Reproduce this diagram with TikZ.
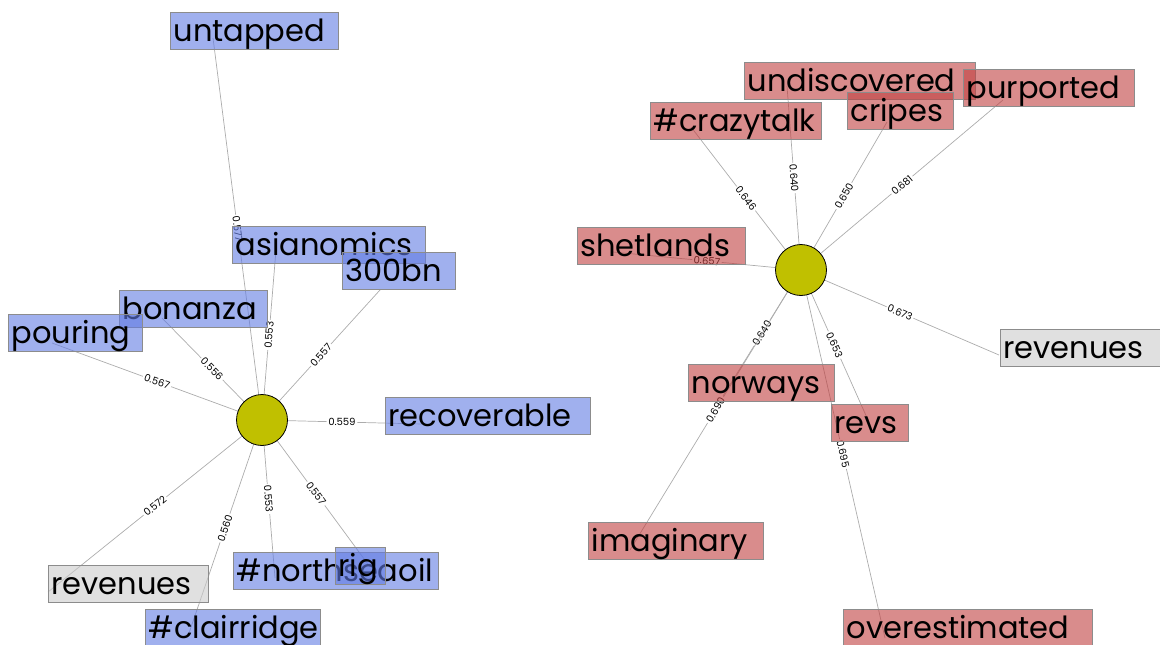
\documentclass[tikz,border=0pt]{standalone}
\usepackage{fontspec}
\newfontfamily\termfont{Poppins}
\usetikzlibrary{backgrounds}
\definecolor{TermBlue} {RGB}{ 97, 123, 227}
\definecolor{TermRed}  {RGB}{192,  63,  63}
\definecolor{TermGrey} {RGB}{203, 203, 203}
\definecolor{HubOlive} {RGB}{192, 192,   0}
\definecolor{EdgeGrey} {RGB}{172, 172, 172}
\definecolor{BoxLine}  {RGB}{140, 140, 140}

\begin{document}
\begin{tikzpicture}[
  x=1pt, y=-1pt,
  term/.style={draw=BoxLine, line width=1pt, fill opacity=0.6, text opacity=1,
               anchor=north west, align=left, inner xsep=3pt, inner ysep=0pt,
               text height=29pt, text depth=8pt, font=\termfont\fontsize{30.5}{31}\selectfont},
  blueterm/.style={term, fill=TermBlue},
  redterm/.style={term, fill=TermRed},
  greyterm/.style={term, fill=TermGrey},
  hub/.style={circle, draw=black, line width=0.8pt, fill=HubOlive,
              minimum size=51pt, inner sep=0pt},
  edge/.style={draw=EdgeGrey, line width=0.7pt},
  weight/.style={sloped, fill=white, inner sep=1.5pt,
                 font=\termfont\fontsize{10}{10}\selectfont}
]
  \useasboundingbox (0,0) rectangle (1160,645);

  % hubs
  \node[hub] (hubL) at (262,420) {};
  \node[hub] (hubR) at (801,270) {};

  % end points of the edges, left cluster
  \coordinate (p-untapped)    at (213,38);
  \coordinate (p-asianomics)  at (276,250);
  \coordinate (p-300bn)       at (380,290);
  \coordinate (p-bonanza)     at (162,318);
  \coordinate (p-pouring)     at (52,343);
  \coordinate (p-recoverable) at (422,424);
  \coordinate (p-revenuesL)   at (48,592);
  \coordinate (p-clairridge)  at (188,636);
  \coordinate (p-northseaoil) at (275,578);
  \coordinate (p-rig)         at (370,567);
  % right cluster
  \coordinate (p-undiscovered)  at (787,86);
  \coordinate (p-crazytalk)     at (691,127);
  \coordinate (p-cripes)        at (887,122);
  \coordinate (p-purported)     at (1003,100);
  \coordinate (p-shetlands)     at (613,252);
  \coordinate (p-revenuesR)     at (999,355);
  \coordinate (p-norways)       at (723,396);
  \coordinate (p-imaginary)     at (630,550);
  \coordinate (p-revs)          at (868,420);
  \coordinate (p-overestimated) at (885,638);

  % term boxes, left cluster
  \node[blueterm, text width=162pt] (untapped)    at (170,12)  {untapped};
  \node[blueterm, text width=187pt] (asianomics)  at (232,226) {asianomics};
  \node[blueterm, text width=107pt] (300bn)       at (342,252) {300bn};
  \node[blueterm, text width=142pt] (bonanza)     at (119,290) {bonanza};
  \node[blueterm, text width=128pt] (pouring)     at (8,314)   {pouring};
  \node[blueterm, text width=199pt] (recoverable) at (385,397) {recoverable};
  \node[greyterm, text width=154pt] (revenuesL)   at (48,565)  {revenues};
  \node[blueterm, text width=169pt] (clairridge)  at (145,609) {\#clairridge};
  \node[blueterm, text width=199pt] (northseaoil) at (233,552) {\#northseaoil};
  \node[blueterm, text width=44pt]  (rig)         at (335,547) {rig};

  % term boxes, right cluster
  \node[redterm, text width=225pt]  (undiscovered)  at (744,62)  {undiscovered};
  \node[redterm, text width=165pt]  (crazytalk)     at (650,102) {\#crazytalk};
  \node[redterm, text width=100pt]  (cripes)        at (847,92)  {cripes};
  \node[redterm, text width=165pt]  (purported)     at (963,69)  {purported};
  \node[redterm, text width=162pt]  (shetlands)     at (577,227) {shetlands};
  \node[greyterm, text width=154pt] (revenuesR)     at (1000,329) {revenues};
  \node[redterm, text width=140pt]  (norways)       at (688,364) {norways};
  \node[redterm, text width=71pt]   (revs)          at (831,404) {revs};
  \node[redterm, text width=169pt]  (imaginary)     at (588,522) {imaginary};
  \node[redterm, text width=243pt]  (overestimated) at (843,609) {overestimated};

  % weighted edges
  \begin{pgfonlayer}{background}
    \draw[edge] (hubL.center) -- node[weight] {0.577} (p-untapped);
    \draw[edge] (hubL.center) -- node[weight] {0.553} (p-asianomics);
    \draw[edge] (hubL.center) -- node[weight] {0.557} (p-300bn);
    \draw[edge] (hubL.center) -- node[weight] {0.556} (p-bonanza);
    \draw[edge] (hubL.center) -- node[weight] {0.567} (p-pouring);
    \draw[edge] (hubL.center) -- node[weight] {0.559} (p-recoverable);
    \draw[edge] (hubL.center) -- node[weight] {0.572} (p-revenuesL);
    \draw[edge] (hubL.center) -- node[weight] {0.560} (p-clairridge);
    \draw[edge] (hubL.center) -- node[weight] {0.553} (p-northseaoil);
    \draw[edge] (hubL.center) -- node[weight] {0.557} (p-rig);

    \draw[edge] (hubR.center) -- node[weight] {0.640} (p-undiscovered);
    \draw[edge] (hubR.center) -- node[weight] {0.646} (p-crazytalk);
    \draw[edge] (hubR.center) -- node[weight] {0.650} (p-cripes);
    \draw[edge] (hubR.center) -- node[weight] {0.681} (p-purported);
    \draw[edge] (hubR.center) -- node[weight] {0.657} (p-shetlands);
    \draw[edge] (hubR.center) -- node[weight] {0.673} (p-revenuesR);
    \draw[edge] (hubR.center) -- node[weight] {0.640} (p-norways);
    \draw[edge] (hubR.center) -- node[weight] {0.690} (p-imaginary);
    \draw[edge] (hubR.center) -- node[weight] {0.653} (p-revs);
    \draw[edge] (hubR.center) -- node[weight] {0.695} (p-overestimated);
  \end{pgfonlayer}
\end{tikzpicture}
\end{document}
